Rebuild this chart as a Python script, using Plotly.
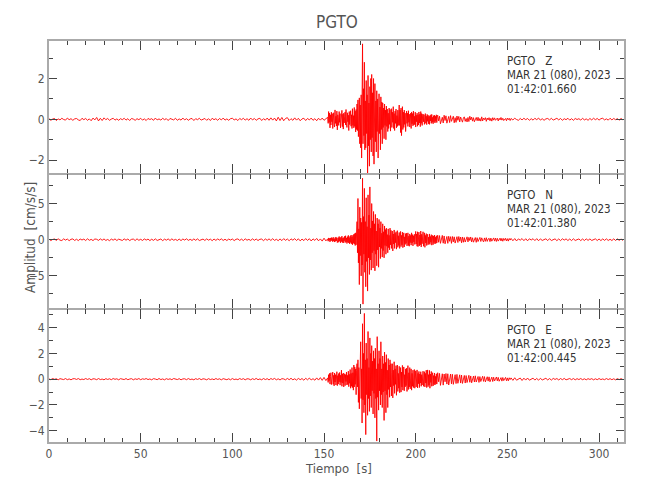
import numpy as np
import plotly.graph_objects as go
from plotly.subplots import make_subplots

# ---------------- data (cm/s/s) ----------------
STATION = "PGTO"
COMPONENTS = ["Z", "N", "E"]
DATE_TEXT = "MAR 21 (080), 2023"
START_TIMES = ["01:42:01.660", "01:42:01.380", "01:42:00.445"]

# sampling of the four segments (start s, step s)
PRE_START, PRE_DT = 0.0, 1.0
MAIN_START, MAIN_DT = 152.0, 0.25
POST1_START, POST1_DT = 212.0, 0.5
POST2_START, POST2_DT = 252.0, 1.0

Z_PRE = [0.03,-0.05,0.01,0.04,-0.06,0.02,-0.03,0.05,-0.01,-0.04,
         0.06,-0.02,0.03,-0.05,0.02,0.04,-0.03,-0.06,0.05,-0.02,
         0.04,-0.05,0.02,-0.07,0.06,-0.03,0.09,-0.08,0.05,-0.06,
         0.07,-0.02,0.04,-0.05,0.01,0.05,-0.04,0.02,-0.05,0.03,
         -0.02,0.05,-0.04,0.03,-0.06,0.04,0.01,-0.05,0.03,-0.02,
         0.05,-0.04,0.02,-0.06,0.04,-0.01,0.03,-0.05,0.06,-0.03,
         0.02,-0.04,0.05,-0.02,0.03,-0.06,0.04,0.01,-0.03,0.05,
         -0.05,0.02,-0.04,0.06,-0.03,0.03,-0.05,0.02,0.04,-0.06,
         0.03,-0.02,0.05,-0.04,0.01,0.04,-0.05,0.03,-0.06,0.05,
         -0.02,0.03,-0.05,0.04,-0.03,0.06,-0.04,0.02,-0.05,0.03,
         0.05,-0.03,0.02,-0.06,0.04,-0.02,0.05,-0.04,0.03,-0.05,
         0.06,-0.03,0.04,-0.05,0.02,0.05,-0.06,0.03,-0.04,0.06,
         -0.05,0.07,-0.04,0.06,-0.08,0.10,-0.06,0.09,-0.07,0.04,
         0.08,-0.06,0.03,-0.05,0.07,-0.04,0.05,-0.07,0.02,0.05,
         -0.06,0.04,-0.03,0.06,-0.05,0.03,-0.07,0.05,-0.04,0.06,
         -0.05,0.03]
Z_MAIN = [0.10,-0.20,0.38,-0.15,0.30,-0.42,0.22,-0.28,
          0.35,-0.12,0.28,-0.45,0.10,0.32,-0.25,-0.38,0.46,-0.20,
          0.15,-0.33,0.40,-0.52,0.22,0.08,-0.30,0.38,-0.15,0.28,
          -0.42,0.18,-0.10,0.44,-0.36,0.25,-0.48,0.30,-0.18,0.12,
          0.36,-0.28,0.48,-0.22,-0.40,0.32,-0.12,0.20,-0.55,0.38,
          -0.26,0.15,0.42,-0.34,0.22,-0.45,0.52,-0.30,0.18,-0.42,
          0.58,-0.35,0.40,-0.62,0.48,-0.50,
          0.75,-0.55,0.95,-0.85,0.40,1.05,-1.20,0.70,-1.40,1.20,-1.90,0.90,
          3.70,-1.20,1.50,-0.80,
          2.80,-1.50,0.90,-1.40,1.90,-0.70,1.20,-2.65,
          2.15,-1.30,0.80,-2.30,1.60,-1.00,2.00,-1.60,
          2.20,-0.90,1.30,-1.80,2.00,-2.20,0.70,1.75,
          -1.10,0.90,-1.60,1.40,-0.60,1.00,-1.90,0.80,
          1.25,-0.70,0.60,-1.50,1.10,-0.50,0.85,-1.20,
          0.80,-0.40,0.55,-0.95,0.75,-0.30,0.45,-1.00,
          0.65,-0.35,0.50,-0.60,0.30,-0.45,0.55,-0.25,
          0.48,-0.58,0.20,0.52,-0.40,0.35,-0.15,0.62,-0.45,0.28,
          -0.55,0.40,-0.20,0.50,-0.42,0.18,-0.35,0.45,-0.30,0.25,
          0.70,-0.30,0.45,-0.65,0.55,-0.80,0.25,0.62,
          -0.50,0.35,-0.40,0.45,-0.25,0.30,-0.60,0.40,
          0.40,-0.20,0.30,-0.35,0.42,-0.15,0.25,-0.38,0.18,0.30,
          -0.45,0.36,-0.22,0.28,-0.32,0.40,-0.28,0.15,-0.25,0.35,
          -0.38,0.20,-0.12,0.30,-0.34,0.22,-0.28,0.36,-0.18,0.25,
          -0.36,0.38,-0.20,0.28,-0.30,0.16,
          0.26,-0.12,0.22,-0.25,0.10,0.28,-0.20,0.15,-0.26,0.24,
          -0.10,0.20,-0.22,0.14,-0.25,0.18,-0.08,0.22,-0.20,0.24,
          -0.15,0.10,-0.22,0.18,-0.12,0.20,-0.18,0.15,-0.10,0.22,
          -0.16,0.12]
Z_POST1 = [0.20,-0.08,0.15,-0.22,0.05,0.10,-0.18,0.20,-0.06,0.17,
           -0.19,0.05,0.14,-0.16,0.18,-0.10,0.02,0.15,-0.17,0.08,
           -0.15,0.16,-0.05,0.14,-0.13,0.11,-0.02,-0.14,0.06,0.12,
           -0.10,0.04,-0.13,0.09,-0.11,0.15,-0.03,0.11,-0.09,0.08,
           -0.12,0.02,0.09,-0.07,0.10,-0.08,0.04,-0.09,0.12,-0.08,
           0.06,-0.02,0.08,-0.10,0.06,-0.03,0.08,-0.07,0.05,-0.09,
           0.08,-0.04,0.07,-0.05,0.02,0.06,-0.08,0.05,-0.03,0.09,
           -0.04,0.05,-0.06,0.01,0.04,-0.07,0.06,-0.02,0.05,-0.06]
Z_POST2 = [0.04,-0.03,0.05,-0.01,-0.05,0.04,-0.03,0.05,-0.02,0.04,
           -0.05,0.03,-0.04,0.05,-0.02,0.06,-0.04,0.03,-0.05,0.02,
           0.04,-0.03,0.05,-0.04,0.01,0.05,-0.03,0.04,-0.05,0.03,
           -0.02,0.05,-0.04,0.03,-0.05,0.04,-0.01,0.03,-0.04,0.05,
           -0.03,0.02,-0.05,0.04,-0.03,0.05,-0.02,0.04,-0.04,0.03,
           0.05,-0.03,0.02,-0.04,0.05,-0.03,0.04,-0.02,0.03,-0.04,
           0.04,-0.03]

N_PRE = [0.08,-0.12,0.04,0.10,-0.09,0.13,-0.06,-0.11,0.12,-0.05,
         0.09,-0.13,0.06,0.11,-0.10,0.07,-0.12,0.10,-0.04,0.09,
         -0.11,0.13,-0.08,0.05,-0.12,0.10,0.06,-0.09,0.12,-0.07,
         0.11,-0.10,0.04,-0.13,0.09,-0.06,0.12,-0.11,0.08,0.03,
         -0.10,0.12,-0.07,0.10,-0.12,0.05,0.09,-0.11,0.13,-0.08,
         0.06,-0.10,0.11,-0.05,0.09,-0.12,0.07,-0.09,0.12,-0.10,
         0.04,0.10,-0.13,0.08,-0.06,0.11,-0.10,0.12,-0.07,0.05,
         -0.11,0.09,-0.12,0.10,-0.05,0.13,-0.09,0.06,-0.10,0.11,
         -0.08,0.12,-0.11,0.04,0.09,-0.10,0.12,-0.06,0.08,-0.13,
         0.10,-0.09,0.11,-0.05,0.12,-0.10,0.07,-0.11,0.09,-0.04,
         0.10,-0.12,0.06,0.11,-0.09,0.08,-0.12,0.13,-0.07,0.05,
         -0.10,0.12,-0.08,0.10,-0.11,0.06,0.09,-0.13,0.11,-0.08,
         0.12,-0.10,0.14,-0.09,0.06,-0.13,0.11,-0.12,0.15,-0.08,
         0.10,-0.14,0.12,-0.06,0.15,-0.11,0.13,-0.16,0.09,-0.12,
         0.16,-0.10,0.14,-0.17,0.12,-0.09,0.18,-0.15,0.11,-0.19,
         0.21,-0.16]
N_MAIN = [0.12,-0.20,0.25,-0.08,0.18,-0.30,0.22,-0.15,
          0.30,-0.12,0.20,-0.28,0.35,-0.18,0.10,-0.32,0.28,-0.22,
          0.38,-0.15,0.25,-0.40,0.18,0.30,-0.35,0.45,-0.20,0.28,
          -0.42,0.35,-0.25,0.50,-0.38,0.22,-0.45,0.30,-0.15,0.48,
          -0.40,0.55,-0.30,0.25,-0.52,0.42,-0.35,0.60,-0.45,0.30,
          -0.58,0.50,-0.38,0.65,-0.55,0.40,-0.70,0.62,-0.48,0.75,
          -0.60,0.85,-0.80,0.95,-0.70,1.10,
          2.50,-1.80,5.70,-3.20,1.50,-6.20,4.50,-2.20,3.00,-5.00,2.40,-3.50,
          8.50,-8.90,3.20,-2.00,7.10,-4.50,2.50,-6.50,
          5.80,-3.00,1.80,-7.10,6.20,-2.50,3.40,-4.80,
          7.30,-2.80,1.60,-4.20,5.00,-1.80,2.60,-3.90,
          3.90,-1.50,2.20,-4.30,3.50,-2.00,1.20,-3.60,
          3.00,-1.40,2.20,-3.80,2.80,-1.00,1.60,-2.60,
          2.50,-1.20,0.90,-2.40,2.20,-1.50,1.10,-2.50,
          1.90,-0.80,1.40,-2.00,1.60,-0.90,0.70,-1.80,1.50,-1.10,0.60,-1.40,
          1.60,-0.70,1.30,-1.20,0.50,1.20,-1.55,0.80,-0.60,1.35,
          -1.20,0.90,-0.40,1.10,-1.30,0.70,1.25,-1.05,0.55,-0.80,
          1.00,-1.20,0.45,1.15,-0.95,0.60,-0.70,1.05,-1.10,0.50,
          0.95,-1.00,0.40,-0.65,0.85,-0.50,
          0.90,-0.85,0.35,0.95,-0.80,0.50,-0.90,0.80,-0.40,0.60,
          -0.75,0.95,-0.45,0.70,-0.85,0.55,-0.30,0.75,-0.65,0.40,
          1.15,-0.60,0.80,-0.90,1.10,-0.95,0.50,1.05,
          -0.85,0.65,-0.70,1.20,-1.00,0.75,-0.55,0.90,
          1.10,-0.90,0.50,0.95,-1.05,0.60,-0.45,0.85,-0.80,0.40,
          0.75,-0.70,0.35,-0.55,0.80,-0.65,0.45,-0.35,0.70,-0.75,
          0.30,0.60,-0.68,0.50,-0.40,0.65,-0.58,0.35,-0.50,0.55,
          -0.45,0.40]
N_POST1 = [0.62,-0.35,0.58,-0.50,0.20,0.60,-0.48,0.52,-0.56,0.25,
           0.45,-0.50,0.48,-0.22,0.42,-0.50,0.45,-0.30,0.40,-0.46,
           0.15,0.42,-0.38,0.44,-0.20,0.36,-0.42,0.38,-0.35,0.30,
           -0.32,0.14,0.40,-0.30,0.33,-0.12,0.38,-0.30,0.27,-0.34,
           0.10,0.30,-0.36,0.28,-0.25,0.12,0.32,-0.24,0.26,-0.08,
           -0.30,0.25,-0.22,0.28,-0.23,0.10,0.21,-0.26,0.23,-0.20,
           0.08,0.25,-0.19,0.22,-0.24,0.20,-0.19,0.06,0.22,-0.17,
           0.19,-0.21,0.18,-0.08,0.20,-0.17,0.15,-0.19,0.17,-0.05]
N_POST2 = [0.18,-0.14,0.16,-0.17,0.12,-0.06,0.16,-0.13,0.14,-0.15,
           0.13,-0.04,0.14,-0.12,0.15,-0.14,0.12,-0.10,0.05,0.13,
           -0.12,0.14,-0.11,0.06,0.12,-0.13,0.11,-0.12,0.13,-0.05,
           0.12,-0.11,0.10,-0.12,0.13,-0.10,0.04,0.11,-0.12,0.10,
           -0.11,0.12,-0.09,0.11,-0.10,0.05,0.12,-0.11,0.10,-0.12,
           0.11,-0.09,0.12,-0.10,0.06,-0.11,0.12,-0.10,0.11,-0.09,
           0.10,-0.11]

E_PRE = [0.02,-0.04,0.05,-0.01,0.03,-0.05,0.04,0.01,-0.03,0.05,
         -0.04,0.02,-0.05,0.03,0.04,-0.02,0.05,-0.04,0.01,-0.03,
         0.05,-0.02,0.04,-0.05,0.03,0.02,-0.04,0.05,-0.03,0.01,
         -0.05,0.04,-0.02,0.03,-0.04,0.05,-0.01,0.03,-0.05,0.04,
         0.02,-0.03,0.05,-0.04,0.01,0.04,-0.05,0.03,-0.02,0.05,
         -0.04,0.03,-0.01,0.05,-0.03,0.02,-0.05,0.04,0.01,-0.04,
         0.05,-0.03,0.02,-0.05,0.04,-0.02,0.03,-0.04,0.05,-0.01,
         -0.03,0.04,-0.05,0.02,0.03,-0.04,0.05,-0.03,0.01,-0.05,
         0.04,-0.02,0.05,-0.04,0.03,0.01,-0.05,0.04,-0.03,0.02,
         -0.04,0.05,-0.02,0.03,-0.05,0.04,0.02,-0.04,0.03,-0.05,
         0.05,-0.03,0.01,-0.04,0.05,-0.02,0.04,-0.05,0.03,0.02,
         -0.05,0.04,-0.03,0.06,-0.04,0.02,-0.05,0.05,-0.03,0.04,
         -0.06,0.05,-0.02,0.06,-0.05,0.03,-0.06,0.04,0.02,-0.05,
         0.06,-0.04,0.07,-0.05,0.03,-0.07,0.06,-0.04,0.05,-0.08,
         0.07,-0.05,0.09,-0.06,0.04,-0.08,0.10,-0.07,0.12,-0.09,
         0.14,-0.11]
E_MAIN = [0.10,-0.25,0.35,-0.12,0.45,-0.38,0.20,0.50,
          -0.42,0.25,-0.15,0.55,-0.40,0.30,-0.52,0.48,-0.22,0.35,
          -0.45,0.15,0.58,-0.50,0.28,-0.38,0.44,-0.20,0.52,-0.46,
          0.30,-0.25,0.70,-0.55,0.40,-0.30,0.48,-0.60,0.25,0.42,
          -0.50,0.35,-0.18,0.55,-0.45,0.30,-0.40,0.62,-0.58,0.38,
          -0.32,0.75,-0.70,0.45,-0.55,0.90,-0.65,0.50,-0.85,1.10,
          -0.60,0.95,-0.40,0.80,-1.20,0.70,
          1.20,-0.60,1.50,-1.80,0.90,-2.30,1.40,-1.00,2.90,-1.50,0.80,-3.40,
          4.30,-1.60,2.00,-2.60,5.10,-2.00,1.50,-4.30,
          2.80,-1.20,1.60,-2.80,3.70,-1.50,0.90,-2.50,
          3.20,-1.30,2.00,-2.20,2.60,-0.90,1.40,-2.70,
          2.20,-1.10,1.60,-3.00,2.40,-1.50,0.80,-4.80,
          3.30,-1.40,1.20,-2.40,2.20,-0.90,1.60,-2.00,
          2.90,-1.20,0.80,-2.20,1.80,-1.00,1.20,-3.20,
          2.10,-0.90,1.30,-2.60,1.90,-1.20,0.70,-2.20,1.60,-0.80,1.10,-1.40,
          1.50,-0.60,1.20,-1.30,0.50,1.20,-1.45,0.70,-0.50,1.35,
          -1.10,0.80,-0.40,1.05,-1.25,0.60,1.10,-0.95,0.45,-0.70,
          1.00,-1.05,0.40,0.90,-1.00,0.55,-0.60,1.07,-0.85,0.45,
          0.95,-0.90,0.35,-0.60,0.80,-0.50,
          0.85,-0.95,0.40,1.05,-0.80,0.50,-0.60,0.90,-0.75,0.35,
          0.80,-0.85,0.45,-0.55,0.70,-0.65,0.30,0.75,-0.70,0.40,
          0.65,-0.60,0.30,0.72,-0.68,0.45,-0.35,0.60,
          -0.65,0.40,-0.30,0.58,-0.55,0.35,-0.45,0.50,
          0.62,-0.55,0.30,0.58,-0.60,0.45,-0.30,0.70,-0.65,0.40,
          0.72,-0.58,0.35,-0.45,0.68,-0.70,0.40,-0.25,0.60,-0.55,
          0.30,0.50,-0.52,0.28,-0.40,0.48,-0.45,0.22,-0.35,0.42,
          -0.38,0.30]
E_POST1 = [0.50,-0.20,0.45,-0.48,0.15,0.42,-0.46,0.40,-0.20,0.44,
           -0.38,0.42,-0.45,0.12,0.40,-0.36,0.38,-0.40,0.18,0.35,
           -0.34,0.37,-0.32,0.10,0.34,-0.30,0.32,-0.33,0.12,0.29,
           -0.30,0.28,-0.26,0.08,0.30,-0.24,0.25,-0.28,0.10,0.24,
           -0.22,0.26,-0.22,0.06,0.21,-0.25,0.20,-0.18,0.08,0.23,
           -0.17,0.20,-0.21,0.05,0.19,-0.15,0.18,-0.20,0.06,0.16,
           -0.18,0.15,-0.14,0.04,0.17,-0.13,0.14,-0.16,0.03,0.12,
           -0.15,0.13,-0.11,0.02,0.14,-0.12,0.10,-0.13,0.11,-0.03]
E_POST2 = [0.10,-0.09,0.11,-0.08,0.03,0.09,-0.10,0.08,-0.07,0.09,
           -0.08,0.02,0.08,-0.07,0.06,-0.08,0.07,-0.06,0.02,0.07,
           -0.06,0.05,-0.07,0.06,-0.02,0.05,-0.06,0.05,-0.04,0.06,
           -0.05,0.01,0.05,-0.04,0.05,-0.05,0.04,-0.03,0.05,-0.04,
           0.03,-0.05,0.04,-0.02,0.04,-0.05,0.03,-0.04,0.05,-0.03,
           0.02,-0.04,0.05,-0.03,0.04,-0.04,0.03,-0.05,0.04,-0.03,
           0.04,-0.03]

TRACES = {"Z": (Z_PRE, Z_MAIN, Z_POST1, Z_POST2),
          "N": (N_PRE, N_MAIN, N_POST1, N_POST2),
          "E": (E_PRE, E_MAIN, E_POST1, E_POST2)}
SEGMENTS = [(PRE_START, PRE_DT), (MAIN_START, MAIN_DT),
            (POST1_START, POST1_DT), (POST2_START, POST2_DT)]

X_RANGE = [0, 313.6]
Y_RANGES = [[-2.70, 3.89], [-9.53, 9.04], [-4.95, 5.47]]
Y_DTICK = [2, 5, 2]
Y_MINOR = [1, 2.5, 1]
X_TICKS = [0, 50, 100, 150, 200, 250, 300]

# ---------------- figure ----------------
FONT = "Liberation Sans Narrow, DejaVu Sans Condensed, Arial Narrow, Liberation Sans, sans-serif"
AXIS_GREY = "#aaaaaa"
TEXT_GREY = "#555555"

OFF = 8                      # page body margin
W, H = 642, 492
# plot area in page pixels: x 49..624, y 40..443
ML, MR, MT, MB = 49 - OFF, W - (624 - OFF), 40 - OFF, H - (443 - OFF)
PW, PH = W - ML - MR, H - MT - MB

def py(page_y):
    return (H - MB - (page_y - OFF)) / PH

def px(page_x):
    return (page_x - OFF - ML) / PW

fig = make_subplots(rows=3, cols=1, shared_xaxes=True, vertical_spacing=0)

for k, comp in enumerate(COMPONENTS):
    segs = TRACES[comp]
    t = np.concatenate([s0 + dt * np.arange(len(v))
                        for (s0, dt), v in zip(SEGMENTS, segs)])
    y = np.concatenate(segs)
    fig.add_trace(go.Scatter(x=t, y=y, mode="lines",
                             line=dict(color="#ff0000", width=0.9),
                             showlegend=False, hoverinfo="skip"),
                  row=k + 1, col=1)

tick_font = dict(family=FONT, size=12, color=TEXT_GREY)
for k in range(3):
    fig.update_xaxes(range=X_RANGE, tickvals=X_TICKS, ticklen=10,
                     ticks="inside", tickcolor="#444444", tickwidth=1,
                     minor=dict(dtick=10, tick0=0, ticklen=5, ticks="inside",
                                tickcolor="#444444", tickwidth=1, showgrid=False),
                     showline=True, linecolor=AXIS_GREY, linewidth=1,
                     mirror="allticks", showgrid=False, zeroline=False,
                     automargin=False, tickfont=tick_font,
                     showticklabels=(k == 2), row=k + 1, col=1)
    fig.update_yaxes(range=Y_RANGES[k], dtick=Y_DTICK[k], tick0=0, ticklen=8,
                     ticks="inside", tickcolor="#444444", tickwidth=1,
                     minor=dict(dtick=Y_MINOR[k], tick0=0, ticklen=4,
                                ticks="inside", tickcolor="#444444",
                                tickwidth=1, showgrid=False),
                     showline=True, linecolor=AXIS_GREY, linewidth=2,
                     mirror="allticks", showgrid=False, zeroline=False,
                     automargin=False, tickfont=tick_font,
                     row=k + 1, col=1)

annos = []
panel_tops = [40.0, 174.3, 309.3]
for k, comp in enumerate(COMPONENTS):
    lines = [STATION + "\u00a0\u00a0\u00a0" + comp, DATE_TEXT, START_TIMES[k]]
    for j, txt in enumerate(lines):
        annos.append(dict(text=txt, xref="paper", yref="paper",
                          x=px(505), y=py(panel_tops[k] + 21 + 14 * j),
                          xanchor="left", yanchor="middle", showarrow=False,
                          font=dict(family=FONT, size=11.5, color="#333333")))

annos.append(dict(text="Amplitud\u00a0\u00a0[cm/s/s]", xref="paper", yref="paper",
                  x=px(30), y=py(238), textangle=-90, showarrow=False,
                  xanchor="center", yanchor="middle",
                  font=dict(family=FONT, size=13.5, color=TEXT_GREY)))
annos.append(dict(text="Tiempo\u00a0\u00a0[s]", xref="paper", yref="paper",
                  x=px(338), y=py(468), showarrow=False,
                  xanchor="center", yanchor="middle",
                  font=dict(family=FONT, size=13, color=TEXT_GREY)))

# outer top / bottom frame lines (2 px like the side frame)
shapes = [dict(type="line", xref="paper", yref="paper", x0=0, x1=1, y0=1, y1=1,
               line=dict(color=AXIS_GREY, width=2)),
          dict(type="line", xref="paper", yref="paper", x0=0, x1=1, y0=0, y1=0,
               line=dict(color=AXIS_GREY, width=2))]

fig.update_layout(
    width=W, height=H,
    margin=dict(l=ML, r=MR, t=MT, b=MB),
    paper_bgcolor="white", plot_bgcolor="white",
    title=dict(text=STATION, x=(337 - OFF) / W, xanchor="center",
               y=1 - (22 - OFF) / H, yanchor="middle",
               font=dict(family=FONT, size=17, color=TEXT_GREY)),
    annotations=annos,
    shapes=shapes,
    showlegend=False,
)

fig.write_html("out.html")
